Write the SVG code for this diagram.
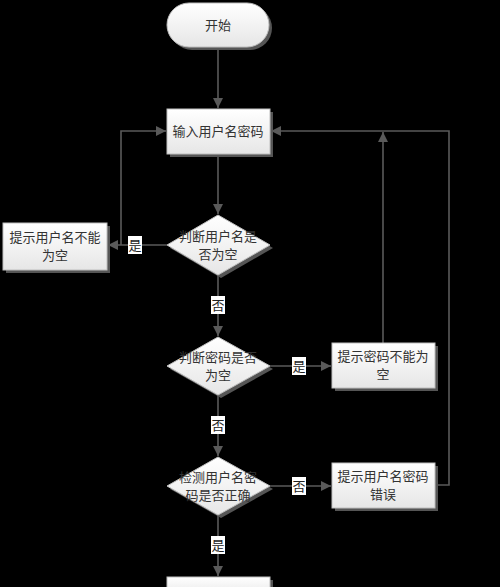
<svg xmlns="http://www.w3.org/2000/svg" width="500" height="587" viewBox="0 0 500 587">
<defs>
<linearGradient id="g" x1="0" y1="0" x2="0" y2="1"><stop offset="0" stop-color="#ffffff"/><stop offset="1" stop-color="#e6e6e6"/></linearGradient>
<marker id="ah" viewBox="0 0 10 10" refX="10" refY="5" markerWidth="10" markerHeight="10" markerUnits="userSpaceOnUse" orient="auto"><path d="M0,0 L10,5 L0,10 Z" fill="#5a5a5a"/></marker>
</defs>
<style>
.sh{fill:#555}
.nd{fill:url(#g);stroke:#bfbfbf;stroke-width:1}
.t{font-family:"Noto Sans CJK SC","Noto Sans",sans-serif;font-size:13px;fill:#333;text-anchor:middle}
.c{fill:none;stroke:#5a5a5a;stroke-width:1.6}
.lb{fill:#fff}
.lt{font-family:"Noto Sans CJK SC","Noto Sans",sans-serif;font-size:13px;fill:#222;text-anchor:middle}
</style>
<rect width="500" height="587" fill="#000"/>
<g id="connectors">
<path class="c" d="M218,47 V108" marker-end="url(#ah)"/>
<path class="c" d="M218,154 V214" marker-end="url(#ah)"/>
<path class="c" d="M167,245 H108" marker-end="url(#ah)"/>
<path class="c" d="M121,245 V131 H166" marker-end="url(#ah)"/>
<path class="c" d="M218,275 V336" marker-end="url(#ah)"/>
<path class="c" d="M270,366 H331" marker-end="url(#ah)"/>
<path class="c" d="M383,343 V132" marker-end="url(#ah)"/>
<path class="c" d="M218,395 V456" marker-end="url(#ah)"/>
<path class="c" d="M270,486 H331" marker-end="url(#ah)"/>
<path class="c" d="M435,485 H449 V131 H271" marker-end="url(#ah)"/>
<path class="c" d="M218,515 V576" marker-end="url(#ah)"/>
<rect class="lb" x="128" y="236" width="14" height="18"/><text class="lt" x="135" y="250">是</text>
<rect class="lb" x="211" y="296" width="14" height="18"/><text class="lt" x="218" y="310">否</text>
<rect class="lb" x="292" y="357" width="14" height="18"/><text class="lt" x="299" y="371">是</text>
<rect class="lb" x="211" y="416" width="14" height="18"/><text class="lt" x="218" y="430">否</text>
<rect class="lb" x="292" y="477" width="14" height="18"/><text class="lt" x="299" y="491">否</text>
<rect class="lb" x="211" y="536" width="14" height="18"/><text class="lt" x="218" y="550">是</text>
</g>
<g id="start">
<rect class="sh" x="170" y="6" width="102" height="44" rx="22"/>
<rect class="nd" x="167" y="3" width="102" height="44" rx="22"/>
<text class="t" x="218" y="30">开始</text>
</g>
<g id="input">
<rect class="sh" x="170" y="112" width="103" height="45"/>
<rect class="nd" x="167" y="109" width="103" height="45"/>
<text class="t" x="218" y="136">输入用户名密码</text>
</g>
<g id="d1">
<polygon class="sh" points="221,218 273,248 221,278 170,248"/>
<polygon class="nd" points="218,215 270,245 218,275 167,245"/>
<text class="t" x="218" y="241">判断用户名是</text>
<text class="t" x="218" y="259">否为空</text>
</g>
<g id="b1">
<rect class="sh" x="6" y="226" width="104" height="47"/>
<rect class="nd" x="3" y="223" width="104" height="47"/>
<text class="t" x="55" y="242">提示用户名不能</text>
<text class="t" x="55" y="260">为空</text>
</g>
<g id="d2">
<polygon class="sh" points="221,340 273,369 221,398 170,369"/>
<polygon class="nd" points="218,337 270,366 218,395 167,366"/>
<text class="t" x="218" y="362">判断密码是否</text>
<text class="t" x="218" y="380">为空</text>
</g>
<g id="b2">
<rect class="sh" x="335" y="346" width="103" height="45"/>
<rect class="nd" x="332" y="343" width="103" height="45"/>
<text class="t" x="383" y="361">提示密码不能为</text>
<text class="t" x="383" y="379">空</text>
</g>
<g id="d3">
<polygon class="sh" points="221,460 273,489 221,518 170,489"/>
<polygon class="nd" points="218,457 270,486 218,515 167,486"/>
<text class="t" x="218" y="482">检测用户名密</text>
<text class="t" x="218" y="500">码是否正确</text>
</g>
<g id="b3">
<rect class="sh" x="335" y="466" width="103" height="45"/>
<rect class="nd" x="332" y="463" width="103" height="45"/>
<text class="t" x="383" y="481">提示用户名密码</text>
<text class="t" x="383" y="499">错误</text>
</g>
<g id="end">
<rect class="sh" x="170" y="580" width="103" height="20"/>
<rect class="nd" x="167" y="577" width="103" height="20"/>
</g>
</svg>
